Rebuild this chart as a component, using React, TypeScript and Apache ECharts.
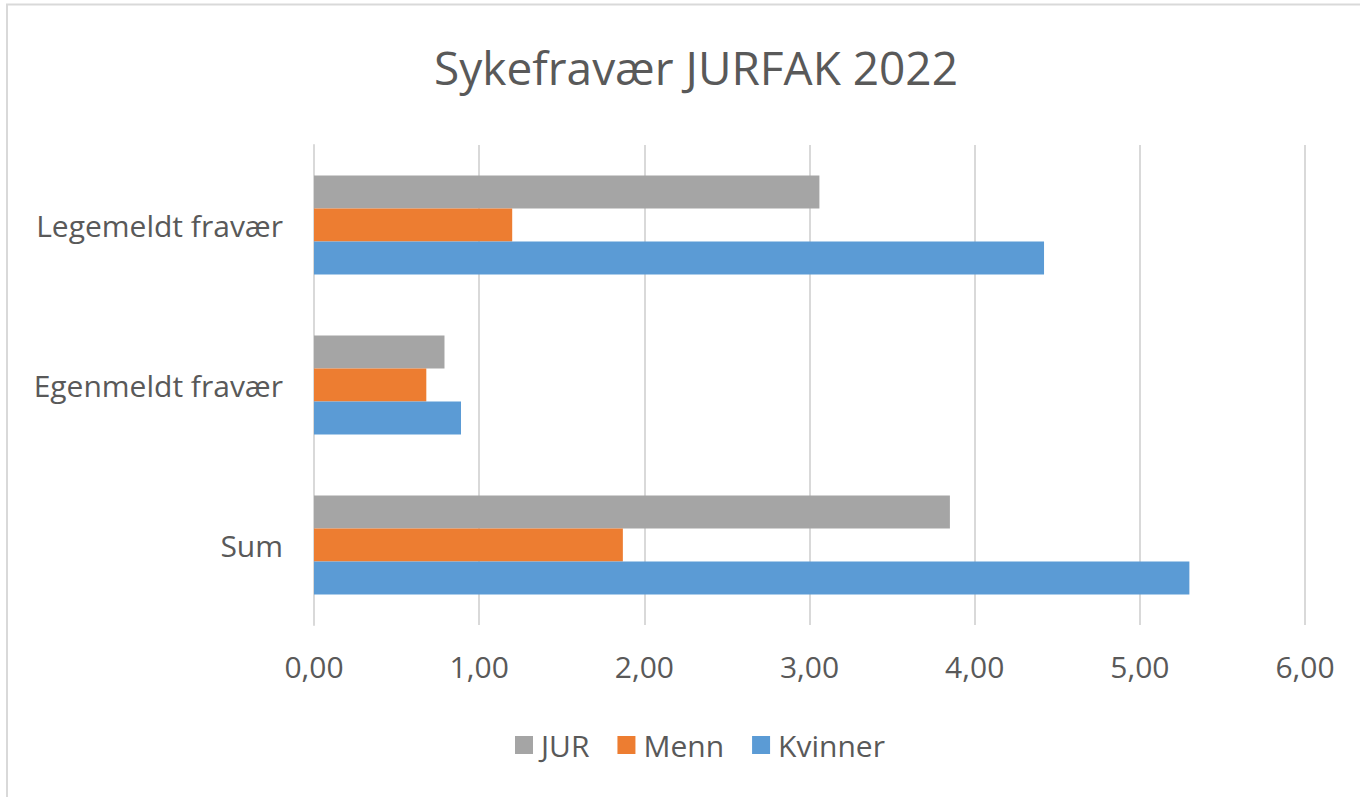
import React, { useEffect, useRef } from "react";
import * as echarts from "echarts";

const categories = ["Sum", "Egenmeldt fravær", "Legemeldt fravær"];
const jur = [3.85, 0.79, 3.06];
const menn = [1.87, 0.68, 1.2];
const kvinner = [5.3, 0.89, 4.42];
const xTicks = { min: 0, max: 6, interval: 1 };

const FONT = "'Open Sans', sans-serif";
const TEXT = "#595959";

export default function App() {
  const ref = useRef<HTMLDivElement>(null);
  useEffect(() => {
    if (!ref.current) return;
    const chart = echarts.init(ref.current, null, { renderer: "svg" });
    chart.setOption({
      animation: false,
      backgroundColor: "#ffffff",
      textStyle: { fontFamily: FONT, color: TEXT },
      title: {
        text: "Sykefravær JURFAK 2022",
        left: 691,
        textAlign: "center",
        top: 39,
        textStyle: { fontFamily: FONT, fontSize: 46, fontWeight: "normal", color: TEXT },
      },
      graphic: [
        {
          type: "rect",
          shape: { x: 7, y: 4.5, width: 1360, height: 800 },
          style: { fill: "none", stroke: "#d9d9d9", lineWidth: 2 },
          silent: true,
        },
      ],
      legend: {
        data: ["JUR", "Menn", "Kvinner"],
        left: 510,
        top: 725,
        itemWidth: 18,
        itemHeight: 18,
        itemGap: 28,
        icon: "rect",
        textStyle: { fontFamily: FONT, fontSize: 30, color: TEXT, padding: [0, 0, 0, 3] },
      },
      grid: { left: 314, right: 55, top: 145, bottom: 172, containLabel: false },
      xAxis: {
        type: "value",
        min: xTicks.min,
        max: xTicks.max,
        interval: xTicks.interval,
        axisLine: { show: false },
        axisTick: { show: false },
        splitLine: { show: true, lineStyle: { color: "#d9d9d9", width: 2 } },
        axisLabel: {
          fontFamily: FONT,
          fontSize: 30,
          color: TEXT,
          margin: 26,
          formatter: (v: number) => v.toFixed(2).replace(".", ","),
        },
      },
      yAxis: {
        type: "category",
        data: categories,
        axisLine: { show: true, lineStyle: { color: "#d9d9d9", width: 2 } },
        axisTick: { show: false },
        axisLabel: { fontFamily: FONT, fontSize: 30, color: TEXT, margin: 31 },
      },
      series: [
        { name: "JUR", type: "bar", data: jur, barWidth: 33, barGap: "0%", itemStyle: { color: "#a5a5a5" } },
        { name: "Menn", type: "bar", data: menn, barWidth: 33, barGap: "0%", itemStyle: { color: "#ed7d31" } },
        { name: "Kvinner", type: "bar", data: kvinner, barWidth: 33, barGap: "0%", itemStyle: { color: "#5b9bd5" } },
      ],
    });
    return () => chart.dispose();
  }, []);
  return (
    <div
      ref={ref}
      style={{ position: "fixed", left: 0, top: 0, width: 1360, height: 797 }}
    />
  );
}
